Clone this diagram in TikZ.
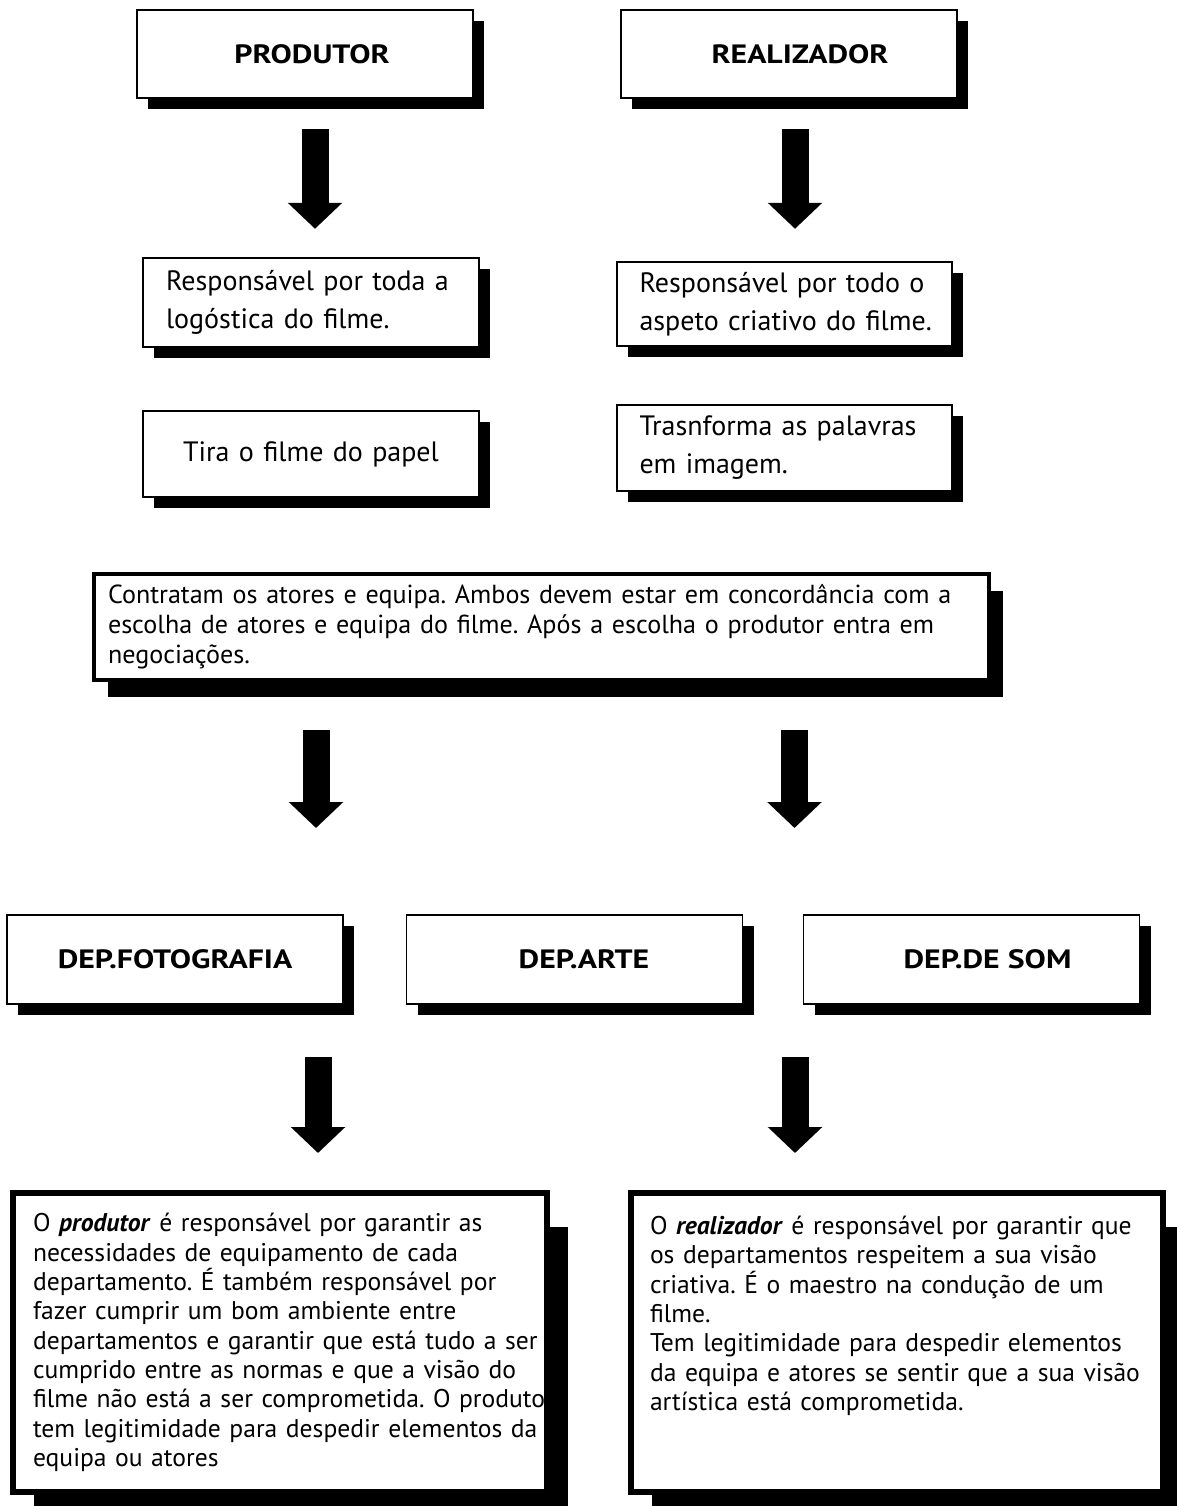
\documentclass[tikz,border=0pt]{standalone}
\usepackage{fontspec}
\setmainfont{PT Sans}
\newfontfamily\headfont{PT Sans}[FakeStretch=1.2]
\usetikzlibrary{positioning,arrows.meta,shadows}
\tikzset{
  shadowed/.style 2 args={drop shadow={shadow xshift=#1,shadow yshift=#2,opacity=1,fill=black}},
  box/.style={draw=black,fill=white,line width=1.6pt,inner sep=0pt},
  spill/.style={execute at begin node={\hyphenpenalty=10000\rightskip=-#1 plus 1fil}},
  headbox/.style={box,shadowed={11pt}{-11pt},minimum width=336pt,minimum height=88pt,
    font=\headfont\bfseries\fontsize{26.5}{30}\selectfont},
  notebox/.style={box,shadowed={11pt}{-11pt},minimum width=336pt,text width=290pt,
    font=\fontsize{28}{38}\selectfont},
  longbox/.style={box,line width=6pt,shadowed={21pt}{-34pt},minimum height=299pt,
    text width=494pt,align=left,spill=34pt,font=\fontsize{25.6}{29.3}\selectfont},
  bigarrow/.style={line width=27pt,-{Triangle[length=26pt,width=53pt]}}
}
\frenchspacing
\begin{document}
\begin{tikzpicture}[x=1pt,y=-1pt]
\useasboundingbox (0,0) rectangle (1176,1506);
% produtor / realizador
\node[headbox] (prod) at (305,54) {\hspace*{14pt}PRODUTOR};
\node[headbox] (real) at (789,54) {\hspace*{22pt}REALIZADOR};
\node[notebox,align=left,spill=16pt,minimum height=89pt] (prodresp) at (311,302.5) {Responsável por toda a\\logóstica do filme.};
\node[notebox,align=center,minimum height=86pt] (prodpapel) at (311,454) {Tira o filme do papel};
\node[notebox,align=left,spill=16pt,minimum width=335pt,minimum height=84pt] (realresp) at (784.5,304) {Responsável por todo o\\aspeto criativo do filme.};
\node[notebox,align=left,spill=16pt,minimum width=335pt,minimum height=86pt] (realimg) at (784.5,448) {Trasnforma as palavras\\em imagem.};
\draw[bigarrow] (prod.south) ++(10,30) -- ++(0,100);
\draw[bigarrow] (real.south) ++(6,30) -- ++(0,100);
% contratacao
\node[box,line width=4pt,shadowed={14pt}{-17pt},minimum width=895pt,minimum height=106pt,
  text width=867pt,align=left,font=\fontsize{26.1}{30}\selectfont] (contrat) at (541.5,627)
  {Contratam os atores e equipa. Ambos devem estar em concordância com a\\escolha de atores e equipa do filme. Após a escolha o produtor entra em\\negociações.};
\draw[bigarrow] (contrat.south) ++(-225.5,48) -- ++(0,98);
\draw[bigarrow] (contrat.south) ++(253,48) -- ++(0,98);
% departamentos
\node[headbox,minimum height=89pt] (depfoto) at (175,959.5) {DEP.FOTOGRAFIA};
\node[headbox,minimum height=89pt] (departe) at (574.5,959.5) {\hspace*{19pt}DEP.ARTE};
\node[headbox,minimum height=89pt] (depsom) at (971.5,959.5) {\hspace*{32pt}DEP.DE SOM};
% funcoes
\node[longbox,minimum width=534pt] (prodtxt) at (280,1342.5)
  {O \textbf{\textit{produtor}} é responsável por garantir as\\necessidades de equipamento de cada\\departamento. É também responsável por\\fazer cumprir um bom ambiente entre\\departamentos e garantir que está tudo a ser\\cumprido entre as normas e que a visão do\\filme não está a ser comprometida. O produto\\tem legitimidade para despedir elementos da\\equipa ou atores};
\node[longbox,minimum width=532pt] (realtxt) at (897,1342.5)
  {O \textbf{\textit{realizador}} é responsável por garantir que\\os departamentos respeitem a sua visão\\criativa. É o maestro na condução de um\\filme.\\Tem legitimidade para despedir elementos\\da equipa e atores se sentir que a sua visão\\artística está comprometida.\\~\\~};
\draw[bigarrow] (prodtxt.north) ++(38,-133) -- ++(0,96);
\draw[bigarrow] (realtxt.north) ++(-102,-133) -- ++(0,96);
\end{tikzpicture}
\end{document}
